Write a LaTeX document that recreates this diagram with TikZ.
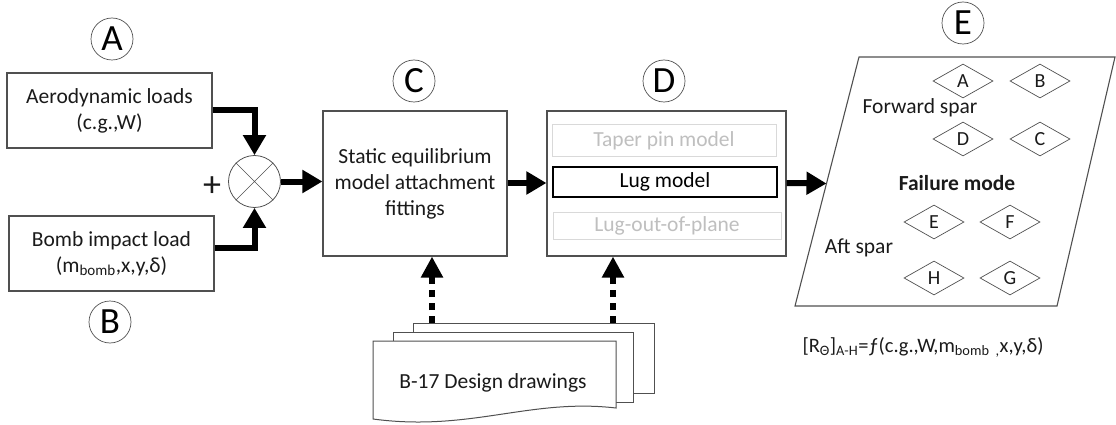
\documentclass[tikz,border=0pt]{standalone}
\usepackage{fontspec}
\setmainfont{Carlito}
\usetikzlibrary{arrows.meta,shapes.geometric,calc}
\definecolor{txt}{HTML}{1A1A1A}
\definecolor{boxgray}{HTML}{505050}
\definecolor{lightline}{HTML}{D9D9D9}
\definecolor{lighttxt}{HTML}{BFBFBF}
\newcommand\mainsz{\fontsize{21.5}{26}\selectfont}
\begin{document}
\begin{tikzpicture}[x=1pt,y=-1pt,
  box/.style={draw=boxgray, line width=1.1pt, fill=white, align=center, font=\mainsz, text=txt, inner sep=0pt},
  lbl/.style={circle, draw=boxgray, line width=0.7pt, minimum size=42pt, inner sep=0pt, font=\fontsize{37}{37}\selectfont},
  fatarrow/.style={line width=6pt, -{Triangle[length=20pt,width=22pt]}},
  dotarrow/.style={line width=6.5pt, dash pattern=on 7pt off 6pt, -{Triangle[length=21pt,width=21pt]}},
  diam/.style={diamond, draw=boxgray, line width=0.7pt, minimum width=60pt, minimum height=34pt, inner sep=0pt, font=\fontsize{20}{20}\selectfont, text=txt},
  plain/.style={font=\mainsz, text=txt, inner sep=0pt, align=center},
  grayin/.style={draw=lightline, line width=1pt, font=\mainsz, text=lighttxt, inner sep=0pt},
  sheet/.style={draw=boxgray, line width=1pt, fill=white}
]
\useasboundingbox (0,0) rectangle (1116,425);

% circle labels
\node[lbl] (lA) at (112,39) {A};
\node[lbl] (lB) at (110,322) {B};
\node[lbl] (lC) at (414,81) {C};
\node[lbl] (lD) at (664,81) {D};
\node[lbl] (lE) at (963,23) {E};

% input boxes
\node[box, minimum width=205pt, minimum height=75pt] (aero) at (109.5,110.5) {Aerodynamic loads\\(c.g.,W)};
\node[box, minimum width=205pt, minimum height=75pt] (bomb) at (111.5,253.5) {Bomb impact load\\(m\textsubscript{bomb},x,y,δ)};

% summation
\node[circle, draw=boxgray, line width=0.8pt, minimum size=52pt, inner sep=0pt] (sum) at (254.5,181.5) {};
\draw[boxgray, line width=0.6pt] (sum.45) -- (sum.225) (sum.135) -- (sum.-45);
\node[font=\fontsize{36}{36}\selectfont, text=txt, inner sep=0pt] (plus) at (212,187) {+};

% box C
\node[box, minimum width=184pt, minimum height=145pt] (C) at (415,183.5) {Static equilibrium\\model attachment\\fittings};

% box D
\node[box, minimum width=239pt, minimum height=145pt] (D) at (666.5,183.5) {};
\node[grayin, minimum width=224pt, minimum height=31pt] (taper) at (664,140.5) {Taper pin model};
\node[draw=black, line width=1.1pt, font=\mainsz, text=black, inner sep=0pt, minimum width=224pt, minimum height=30pt] (lug) at (665,182) {Lug model};
\node[grayin, minimum width=228pt, minimum height=27pt] (lugout) at (667,225.5) {Lug-out-of-plane};

% parallelogram E
\coordinate (P1) at (859,57);
\coordinate (P2) at (1115,57);
\coordinate (P3) at (1057,306);
\coordinate (P4) at (795,306);
\draw[boxgray, line width=1.1pt] (P1) -- (P2) -- (P3) -- (P4) -- cycle;
\coordinate (Ein) at ($(P1)!0.508!(P4)$);

\node[diam] (dA) at (963,81) {A};
\node[diam] (dB) at (1040,81) {B};
\node[diam] (dD) at (963,139) {D};
\node[diam] (dC) at (1040,139) {C};
\node[diam] (dE) at (934,222) {E};
\node[diam] (dF) at (1010,222) {F};
\node[diam] (dH) at (934,278) {H};
\node[diam] (dG) at (1010,278) {G};
\node[plain] (fwd) at (920,108) {Forward spar};
\node[plain, font=\mainsz\bfseries] (fail) at (957,183) {Failure mode};
\node[plain] (aft) at (859,248) {Aft spar};

% formula
\node[plain, font=\fontsize{20.5}{24}\selectfont] (formula) at (923,347) {[R\textsubscript{Θ}]\textsubscript{A-H}=ƒ(c.g.,W,m\textsubscript{bomb\ \ ,}x,y,δ)};

% design drawings
\draw[sheet] (413,323) rectangle (654,393);
\draw[sheet] (393,332) rectangle (633,402);
\draw[sheet] (373,341) -- (616,341) -- (616,408) .. controls (530,398) and (470,432) .. (373,419) -- cycle;
\node[plain] (doc) at (493,383) {B-17 Design drawings};
\coordinate (docC) at (432,323);
\coordinate (docD) at (613,323);

% connectors
\draw[fatarrow] (aero.east |- 0,110) -| (sum.north);
\draw[fatarrow] (bomb.east |- 0,248) -| (sum.south);
\draw[fatarrow] (sum.east) -- (sum.east -| C.west);
\draw[fatarrow] (C.east |- 0,183) -- (D.west |- 0,183);
\draw[fatarrow] (D.east |- 0,183) -- (Ein);
\draw[dotarrow] (docC) -- (docC |- C.south);
\draw[dotarrow] (docD) -- (docD |- D.south);
\end{tikzpicture}
\end{document}
